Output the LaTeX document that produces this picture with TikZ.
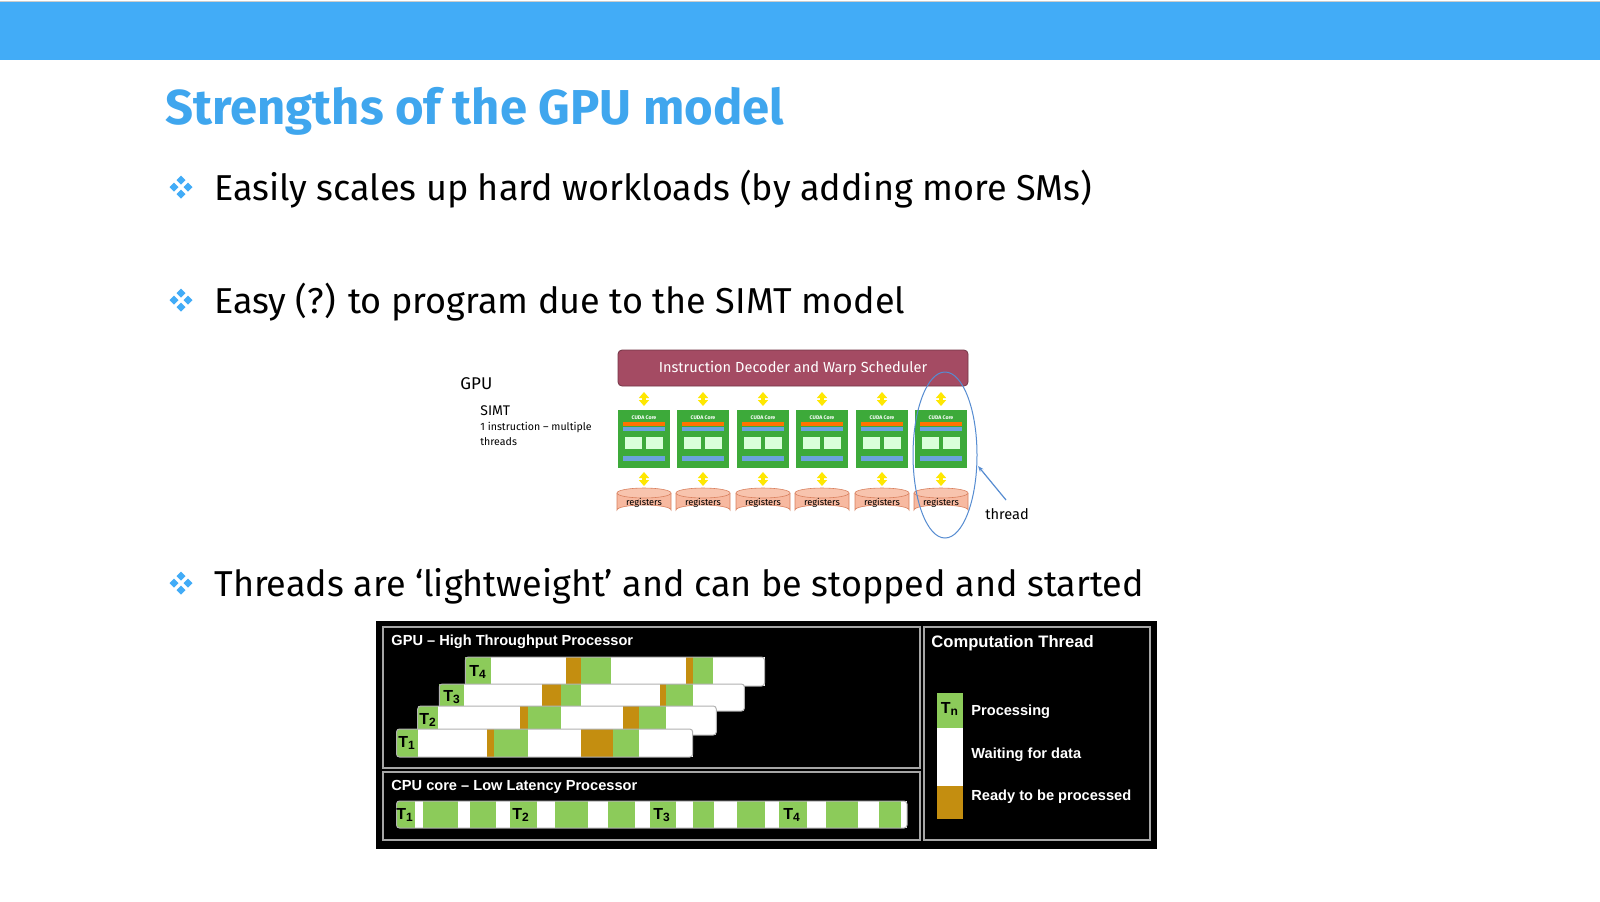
\documentclass[tikz,border=0pt]{standalone}
\usepackage{fontspec}
\setmainfont{Fira Sans}
\newfontfamily\arialf{Liberation Sans}
\usetikzlibrary{arrows.meta}
\definecolor{topblue}{HTML}{42ACF7}
\definecolor{titleblue}{HTML}{3FA6EE}
\definecolor{maroon}{HTML}{A44B63}
\definecolor{coregreen}{HTML}{3DAA3A}
\definecolor{regfill}{HTML}{F7B9A0}
\definecolor{regdraw}{HTML}{D9805E}
\definecolor{tg}{HTML}{8CCB5A}
\definecolor{tb}{HTML}{C48E10}
\tikzset{
 bullettext/.style={anchor=base west,inner sep=0,font=\fontsize{18}{22}\selectfont},
 paneltitle/.style={anchor=base west,inner sep=0,text=white,font=\arialf\bfseries\fontsize{7.3}{8}\selectfont},
 legtext/.style={anchor=base west,inner sep=0,text=white,font=\arialf\bfseries\fontsize{7.3}{8}\selectfont},
 tlab/.style={inner sep=0,font=\arialf\bfseries\fontsize{8}{8}\selectfont},
 yarrow/.style={draw=yellow!90!orange,line width=1.6pt,{Triangle[length=3pt,width=5pt]}-{Triangle[length=3pt,width=5pt]}},
}
\newcommand{\bulleticon}[2]{%
 \foreach \dx/\dy in {0/-7,0/7,-7/0,7/0}{
  \fill[topblue] (#1+\dx,#2+\dy-4.5) -- (#1+\dx+4.5,#2+\dy) -- (#1+\dx,#2+\dy+4.5) -- (#1+\dx-4.5,#2+\dy) -- cycle;}}
\begin{document}
\begin{tikzpicture}[x=0.5pt,y=-0.5pt]
\useasboundingbox (0,0) rectangle (1600,901);
\fill[white] (0,0) rectangle (1600,901);
\fill[topblue] (0,2) rectangle (1600,60);
\draw[gray!40] (0,1) -- (1600,1);
\node[anchor=base west,inner sep=0,text=titleblue,font=\fontsize{24.5}{28}\selectfont\bfseries] (title) at (165,124) {Strengths of the GPU model};
\bulleticon{181}{187}
\node[bullettext] (b1) at (214,200) {Easily scales up hard workloads (by adding more SMs)};
\bulleticon{181}{300}
\node[bullettext] (b2) at (214,313) {Easy (?) to program due to the SIMT model};
\bulleticon{181}{583}
\node[bullettext] (b3) at (214,596) {Threads are ‘lightweight’ and can be stopped and started};
% SIMT figure
\node[anchor=base west,inner sep=0,font=\fontsize{8.5}{10}\selectfont] (gpu) at (460,389) {GPU};
\node[anchor=base west,inner sep=0,font=\fontsize{7}{8}\selectfont] (simt) at (480,415) {SIMT};
\node[anchor=north west,inner sep=0,align=left,font=\fontsize{5.3}{7.5}\selectfont] (simtd) at (480,422) {1 instruction – multiple\\threads};
\node[draw=maroon!70!black,fill=maroon,rounded corners=2pt,minimum width=175pt,minimum height=18pt,text=white,font=\fontsize{7.3}{8}\selectfont] (ids) at (793,368) {Instruction Decoder and Warp Scheduler};
\foreach \i/\cx in {1/644,2/703,3/763,4/822,5/882,6/941}{
 \node[fill=coregreen,minimum width=26pt,minimum height=29pt,inner sep=0] (core\i) at (\cx,439) {};
 \node[inner sep=0,text=white,font=\bfseries\fontsize{2.6}{3}\selectfont] at (\cx,418) {CUDA Core};
 \fill[orange!90!red] (\cx-21,422) rectangle (\cx+21,426);
 \fill[cyan!60!blue!60] (\cx-21,427) rectangle (\cx+21,431);
 \fill[green!15] (\cx-19,437) rectangle (\cx-2,449);
 \fill[green!15] (\cx+2,437) rectangle (\cx+19,449);
 \fill[cyan!60!blue!60] (\cx-21,456) rectangle (\cx+21,461);
 \draw[yarrow] (\cx,392) -- (\cx,406);
 \draw[yarrow] (\cx,472) -- (\cx,486);
 \fill[regfill,draw=regdraw,line width=0.3pt] (\cx-27,493) -- (\cx-27,510) arc[start angle=180,end angle=360,x radius=27,y radius=5] -- (\cx+27,493);
 \fill[regfill!85!white,draw=regdraw,line width=0.3pt] (\cx,493) ellipse[x radius=27,y radius=5];
 \node[inner sep=0,font=\fontsize{4.6}{5}\selectfont] (reg\i) at (\cx,503) {registers};
}
\draw[cyan!50!blue!70,line width=0.5pt] (945,455) ellipse[x radius=32,y radius=83];
\node[anchor=base west,inner sep=0,font=\fontsize{7.3}{8}\selectfont] (thr) at (985,519) {thread};
\coordinate (ellpt) at (978,466);
\draw[cyan!50!blue!70,line width=0.6pt,-{Stealth[length=3pt]}] (1006,500) -- (ellpt);
% thread figure
\fill[black] (376,621) rectangle (1157,849);
\draw[gray!70,line width=0.6pt] (383,627) rectangle (920,768);
\draw[gray!70,line width=0.6pt] (383,772) rectangle (920,840);
\draw[gray!70,line width=0.6pt] (924,627) rectangle (1150,840);
\node[paneltitle] (gpt) at (391,645) {GPU – High Throughput Processor};
\node[paneltitle] (cpt) at (391,790) {CPU core – Low Latency Processor};
\node[paneltitle,font=\arialf\bfseries\fontsize{8.3}{9}\selectfont] (ctt) at (931,647) {Computation Thread};
\foreach \yt/\yb/\xa/\xb/\segs in {
 657/686/465.4/764.5/{465.4/491/tg,491/566.3/white,566.3/581/tb,581/610.5/tg,610.5/685.8/white,685.8/692.7/tb,692.7/712.9/tg,712.9/764.5/white},
 684/711/439.3/744.4/{439.3/464/tg,464/541.7/white,541.7/561.3/tb,561.3/581/tg,581/659.7/white,659.7/666.1/tb,666.1/692.7/tg,692.7/744.4/white},
 706/735/417.7/716.3/{417.7/438.3/tg,438.3/519.5/white,519.5/527.9/tb,527.9/561.3/tg,561.3/622.8/white,622.8/639.1/tb,639.1/666.1/tg,666.1/716.3/white},
 729/757/396.5/692.7/{396.5/417.7/tg,417.7/486.6/white,486.6/494/tb,494/527.9/tg,527.9/581/white,581/613/tb,613/639.1/tg,639.1/692.7/white},
 801/828/396.5/907/{396.5/414.7/tg,414.7/422.6/white,422.6/458/tg,458/470.3/white,470.3/495.9/tg,495.9/509.7/white,
  509.7/536.7/tg,536.7/555/white,555/588.4/tg,588.4/608/white,608/635.1/tg,635.1/649.9/white,
  649.9/675.5/tg,675.5/692.7/white,692.7/713.9/tg,713.9/737/white,737/764.5/tg,764.5/779.3/white,
  779.3/807.4/tg,807.4/825.6/white,825.6/857.5/tg,857.5/878.5/white,878.5/901/tg,901/907/white}}{
 \foreach \a/\b/\c in \segs{\fill[\c] (\a,\yt) rectangle (\b,\yb);}
 \draw[gray!60,line width=0.5pt,rounded corners=1.5pt] (\xa,\yt) rectangle (\xb,\yb);
}
\foreach \x/\y/\n in {478/672/4,452/697/3,428/720/2,407/743/1,405/815/1,521/815/2,662/815/3,792/815/4}{
 \node[tlab] (t\n\x) at (\x,\y) {T\textsubscript{\n}};
}
% legend
\fill[tg] (937,693) rectangle (963,728);
\fill[white] (937,728) rectangle (963,786);
\fill[tb] (937,786) rectangle (963,819);
\node[tlab] (tn) at (950,709) {T\textsubscript{n}};
\node[legtext] (lp) at (971,715) {Processing};
\node[legtext] (lw) at (971,758) {Waiting for data};
\node[legtext] (lr) at (971,800) {Ready to be processed};
\end{tikzpicture}
\end{document}
